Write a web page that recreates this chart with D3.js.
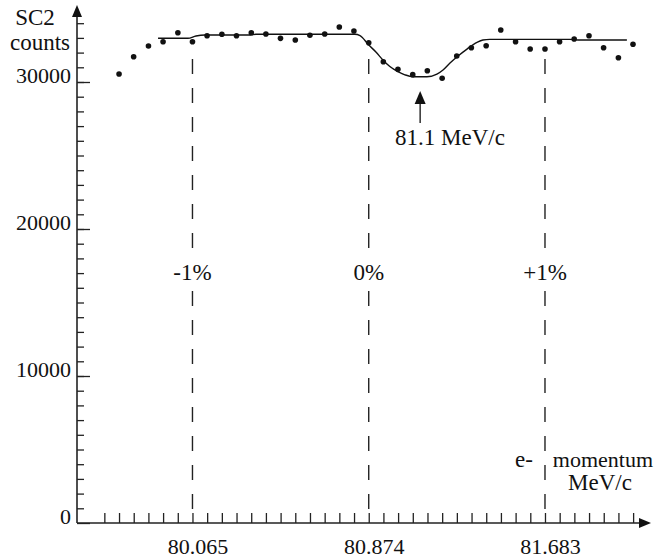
<!DOCTYPE html>
<html>
<head>
<meta charset="utf-8">
<script src="https://cdn.jsdelivr.net/npm/d3@7"></script>
<style>
  body { margin: 0; background: #fff; }
  svg { display: block; font-family: "Liberation Serif", "Times New Roman", serif; }
</style>
</head>
<body>
<div id="chart"></div>
<script>
// SC2 counts vs e- momentum scan

// measured points
const momentum = [79.728, 79.795, 79.863, 79.930, 79.998, 80.065, 80.132, 80.200, 80.267,
  80.335, 80.402, 80.469, 80.537, 80.604, 80.672, 80.739, 80.806, 80.874, 80.941, 81.008,
  81.076, 81.143, 81.211, 81.278, 81.345, 81.413, 81.480, 81.548, 81.615, 81.683, 81.750,
  81.817, 81.885, 81.952, 82.020, 82.087];
const counts = [30540, 31720, 32450, 32740, 33350, 32740, 33150, 33250, 33150, 33350,
  33270, 32970, 32860, 33180, 33270, 33740, 33470, 32670, 31380, 30860, 30500, 30770,
  30250, 31770, 32330, 32470, 33540, 32740, 32250, 32250, 32740, 32930, 33150, 32330,
  31650, 32570];

// fitted curve
const fitMomentum = [79.907, 80.044, 80.081, 80.122, 80.329, 80.356, 80.810, 80.834, 80.874,
  80.907, 80.939, 80.971, 81.008, 81.040, 81.076, 81.141, 81.187, 81.215, 81.247, 81.284,
  81.325, 81.371, 81.398, 81.430, 81.797, 81.834, 82.059];
const fitCounts = [32973, 32973, 33130, 33200, 33200, 33245, 33245, 33160, 32520, 32040,
  31500, 31050, 30700, 30490, 30360, 30360, 30540, 30820, 31290, 31770, 32240, 32700,
  32860, 32900, 32900, 32860, 32860];

// axes
const yMajorTicks = [0, 10000, 20000, 30000];
const xMajorTicks = [80.065, 80.874, 81.683];
const xMajorLabels = ["80.065", "80.874", "81.683"];
const percentLabels = ["-1%", "0%", "+1%"];
const peakMomentum = 81.11;
const peakLabel = "81.1 MeV/c";

const width = 657, height = 560;
const fontSize = 23;

const x = d3.scaleLinear().domain([79.535, 82.165]).range([77, 650]);
const y = d3.scaleLinear().domain([0, 35000]).range([523, 8.5]);
const step = (xMajorTicks[1] - xMajorTicks[0]) / 12;

const svg = d3.select("#chart").append("svg")
  .attr("width", width)
  .attr("height", height)
  .attr("font-size", fontSize);

// dashed markers at -1%, 0%, +1%
svg.append("g")
  .selectAll("line")
  .data(xMajorTicks)
  .join("line")
  .attr("x1", d => x(d)).attr("x2", d => x(d))
  .attr("y1", 59).attr("y2", y(0))
  .attr("stroke", "#222")
  .attr("stroke-width", 1.4)
  .attr("stroke-dasharray", "15,14");

// white gaps + percent labels
const pct = svg.append("g")
  .selectAll("g")
  .data(xMajorTicks)
  .join("g")
  .attr("transform", d => `translate(${x(d)},0)`);
pct.append("rect")
  .attr("x", -28).attr("y", 255).attr("width", 56).attr("height", 34)
  .attr("fill", "#fff");
pct.append("text")
  .attr("y", 280)
  .attr("text-anchor", "middle")
  .attr("fill", "#111")
  .text((d, i) => percentLabels[i]);

// y axis ticks
svg.append("g")
  .attr("transform", `translate(${x.range()[0]},0)`)
  .call(d3.axisLeft(y).tickValues(d3.range(1000, 35000, 1000)).tickSize(-7).tickFormat(""))
  .call(g => g.select(".domain").remove());
svg.append("g")
  .attr("transform", `translate(${x.range()[0]},0)`)
  .call(d3.axisLeft(y).tickValues(yMajorTicks).tickSize(-13).tickPadding(6).tickFormat(d3.format("d")))
  .attr("font-family", null)
  .attr("font-size", 22)
  .call(g => g.select(".domain").remove())
  .call(g => g.selectAll("text").attr("dy", 0).attr("fill", "#111"));

// x axis ticks
svg.append("g")
  .attr("transform", `translate(0,${y(0)})`)
  .call(d3.axisBottom(x).tickValues(d3.range(-6, 31).map(i => xMajorTicks[0] + i * step))
    .tickSize(-10).tickFormat(""))
  .call(g => g.select(".domain").remove());
svg.append("g")
  .attr("transform", `translate(0,${y(0)})`)
  .call(d3.axisBottom(x).tickValues(xMajorTicks).tickSize(0).tickFormat((d, i) => xMajorLabels[i]))
  .attr("font-family", null)
  .attr("font-size", 22)
  .call(g => g.select(".domain").remove())
  .call(g => g.selectAll("text").attr("x", 5).attr("y", 31).attr("dy", 0).attr("fill", "#111"));

svg.selectAll(".tick line").attr("stroke", "#222").attr("stroke-width", 1.3);

// axis lines with arrow heads
const x0 = x.range()[0], y0 = y(0);
svg.append("line")
  .attr("x1", x0).attr("x2", x0).attr("y1", y0).attr("y2", 14)
  .attr("stroke", "#222").attr("stroke-width", 1.6);
svg.append("path")
  .attr("d", `M${x0},5 L${x0 - 5},17 L${x0 + 5},17 Z`)
  .attr("fill", "#111");
svg.append("line")
  .attr("x1", x0).attr("x2", 642).attr("y1", y0).attr("y2", y0)
  .attr("stroke", "#222").attr("stroke-width", 1.6);
svg.append("path")
  .attr("d", `M651,${y0} L639,${y0 - 5} L639,${y0 + 5} Z`)
  .attr("fill", "#111");

// fit curve
const line = d3.line()
  .x(d => x(d[0]))
  .y(d => y(d[1]))
  .curve(d3.curveMonotoneX);
svg.append("path")
  .datum(fitMomentum.map((m, i) => [m, fitCounts[i]]))
  .attr("fill", "none")
  .attr("stroke", "#111")
  .attr("stroke-width", 1.4)
  .attr("d", line);

// data points
svg.append("g")
  .selectAll("circle")
  .data(momentum.map((m, i) => [m, counts[i]]))
  .join("circle")
  .attr("cx", d => x(d[0]))
  .attr("cy", d => y(d[1]))
  .attr("r", 2.8)
  .attr("fill", "#111");

// peak arrow
const px = x(peakMomentum);
svg.append("line")
  .attr("x1", px).attr("x2", px).attr("y1", 102).attr("y2", 123)
  .attr("stroke", "#222").attr("stroke-width", 1.4);
svg.append("path")
  .attr("d", `M${px},91 L${px - 5.5},104 L${px + 5.5},104 Z`)
  .attr("fill", "#111");
svg.append("text")
  .attr("x", 395).attr("y", 145)
  .attr("fill", "#111")
  .text(peakLabel);

// axis titles
svg.append("text").attr("x", 35).attr("y", 25).attr("text-anchor", "middle").attr("fill", "#111").text("SC2");
svg.append("text").attr("x", 40).attr("y", 50).attr("text-anchor", "middle").attr("fill", "#111").text("counts");
svg.append("text").attr("x", 524).attr("y", 467).attr("text-anchor", "middle").attr("fill", "#111").text("e-");
svg.append("text").attr("x", 653).attr("y", 467).attr("text-anchor", "end").attr("font-size", 22).attr("fill", "#111").text("momentum");
svg.append("text").attr("x", 600).attr("y", 490).attr("text-anchor", "middle").attr("fill", "#111").text("MeV/c");
</script>
</body>
</html>
